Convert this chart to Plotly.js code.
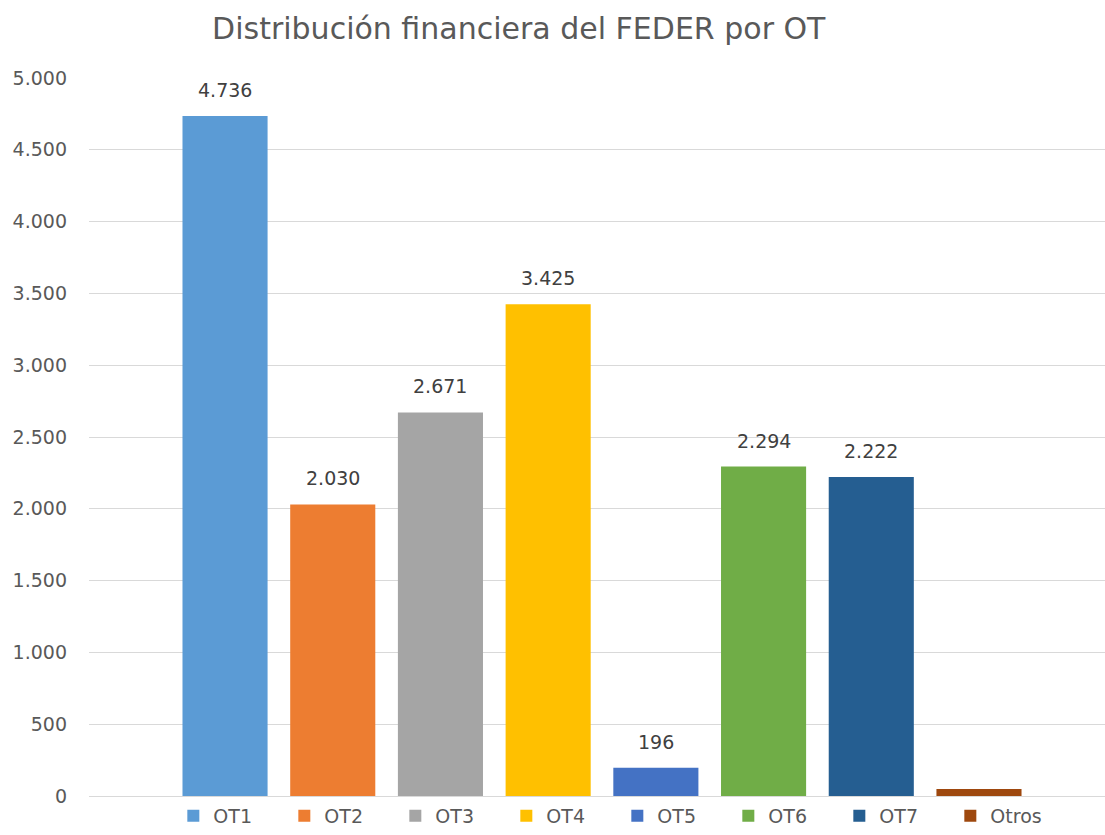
<!DOCTYPE html>
<html>
<head>
<meta charset="utf-8">
<script src="https://cdn.plot.ly/plotly-3.0.1.min.js"></script>
<style>html,body{margin:0;padding:0;background:#fff;}#chart{width:1105px;height:835px;}</style>
</head>
<body>
<div id="chart"></div>
<script>
const categories = ['OT1','OT2','OT3','OT4','OT5','OT6','OT7','Otros'];
const values = [4736, 2030, 2671, 3425, 196, 2294, 2222, 48];
const labels = ['4.736','2.030','2.671','3.425','196','2.294','2.222',''];
const colors = ['#5B9BD5','#ED7D31','#A5A5A5','#FFC000','#4472C4','#70AD47','#255E91','#9E480E'];
const yTicks = [0,500,1000,1500,2000,2500,3000,3500,4000,4500,5000];

const FONT = '"DejaVu Sans", "Open Sans", sans-serif';
const traces = categories.map((c, i) => ({
  type: 'bar',
  name: c,
  x: [c],
  y: [values[i]],
  width: 0.79,
  marker: {color: colors[i]},
  hoverinfo: 'skip'
}));

const annotations = categories.map((c, i) => ({
  x: c, y: values[i], xref: 'x', yref: 'y',
  text: labels[i], showarrow: false,
  yanchor: 'bottom', yshift: 13,
  font: {family: FONT, size: 19, color: '#404040'}
})).filter(a => a.text !== '');

const layout = {
  width: 1105, height: 835,
  margin: {l: 89, r: 0, t: 78, b: 39},
  paper_bgcolor: '#ffffff', plot_bgcolor: '#ffffff',
  separators: ',.',
  barmode: 'overlay',
  font: {family: FONT, color: '#595959'},
  title: {
    text: 'Distribución financiera del FEDER por OT',
    font: {family: FONT, size: 30, color: '#595959'},
    x: 0.423, xanchor: 'center', xref: 'paper',
    y: 1 - 28/835, yanchor: 'middle', yref: 'container'
  },
  xaxis: {
    type: 'category', categoryarray: categories, categoryorder: 'array',
    range: [-1.263, 8.17],
    showticklabels: false, showgrid: false, zeroline: false,
    showline: false, ticks: '', fixedrange: true
  },
  yaxis: {
    range: [0, 5000], tickvals: yTicks, tickformat: ',d',
    showgrid: true, gridcolor: '#D9D9D9', gridwidth: 1,
    zeroline: true, zerolinecolor: '#D9D9D9', zerolinewidth: 1,
    showline: false, ticks: '', ticklabelstandoff: 21,
    tickfont: {family: FONT, size: 19, color: '#595959'}
  },
  showlegend: true,
  legend: {
    orientation: 'h', x: 0.083, xanchor: 'left', xref: 'paper',
    y: -0.012, yanchor: 'bottom', yref: 'container',
    entrywidth: 66, entrywidthmode: 'pixels',
    font: {family: FONT, size: 19, color: '#595959'},
    traceorder: 'normal', itemclick: false
  },
  annotations: annotations
};

Plotly.newPlot('chart', traces, layout, {displayModeBar: false, staticPlot: true});
</script>
</body>
</html>
